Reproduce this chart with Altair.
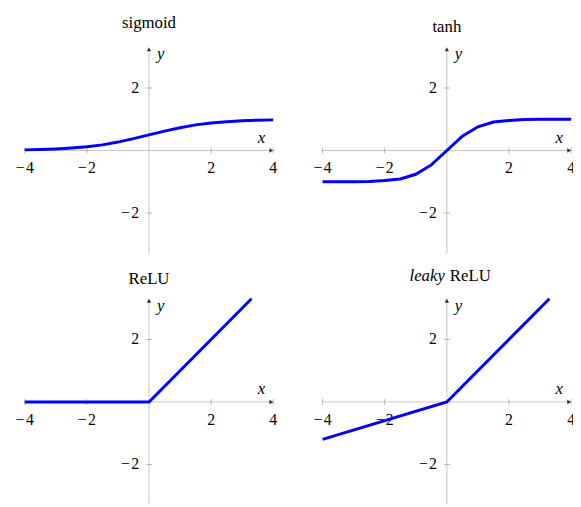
import altair as alt
import pandas as pd

# ---- data ----
x_smooth = [-4, -3.5, -3, -2.5, -2, -1.5, -1, -0.5, 0, 0.5, 1, 1.5, 2, 2.5, 3, 3.5, 4]
y_sigmoid = [0.02, 0.03, 0.05, 0.08, 0.12, 0.18, 0.27, 0.38, 0.5, 0.62, 0.73, 0.82, 0.88, 0.92, 0.95, 0.97, 0.98]
y_tanh = [-1.0, -1.0, -1.0, -0.99, -0.96, -0.91, -0.76, -0.46, 0.0, 0.46, 0.76, 0.91, 0.96, 0.99, 1.0, 1.0, 1.0]
x_relu = [-4, 0, 3.3]
y_relu = [0, 0, 3.3]
x_leaky = [-4, 0, 3.3]
y_leaky = [-1.2, 0, 3.3]

x_ticks = [-4, -2, 2, 4]
x_tick_labels = ["−\u200a4", "−\u200a2", "2", "4"]
y_ticks = [-2, 2]
y_tick_labels = ["−\u200a2", "2"]
x_axis_ends = [-4, 4]
y_axis_ends = [-3.3, 3.3]
titles = ["sigmoid", "tanh", "ReLU", "ReLU"]
title_prefix = ["", "", "", "leaky"]

FONT = "Liberation Serif"
BLUE = "#0000ff"


def panel(xs, ys, title, prefix, xdom, ydom, width, height, title_y):
    xsc = alt.Scale(domain=xdom, nice=False, zero=False)
    ysc = alt.Scale(domain=ydom, nice=False, zero=False)

    def X(**kw):
        return alt.X(scale=xsc, axis=None, **kw)

    def Y(**kw):
        return alt.Y(scale=ysc, axis=None, **kw)

    curve = pd.DataFrame({"x": xs, "y": ys})
    xt = pd.DataFrame({"v": x_ticks, "lab": x_tick_labels})
    yt = pd.DataFrame({"v": y_ticks, "lab": y_tick_labels})

    one = alt.Chart(pd.DataFrame({"k": [0]}))
    layers = []
    # axis lines
    layers.append(one.mark_rule(color="#c4c4c4", strokeWidth=1, clip=True).encode(
        x=X(datum=x_axis_ends[0]), x2=alt.X2(datum=x_axis_ends[1]), y=Y(datum=0)))
    layers.append(one.mark_rule(color="#c4c4c4", strokeWidth=1, clip=True).encode(
        x=X(datum=0), y=Y(datum=y_axis_ends[0]), y2=alt.Y2(datum=y_axis_ends[1])))
    # ticks
    layers.append(alt.Chart(xt).mark_tick(orient="vertical", size=6, thickness=1,
                                          color="#9a9a9a", clip=True).encode(
        x=X(field="v", type="quantitative"), y=Y(datum=0)))
    layers.append(alt.Chart(yt).mark_tick(orient="horizontal", size=6, thickness=1,
                                          color="#9a9a9a", clip=True).encode(
        x=X(datum=0), y=Y(field="v", type="quantitative")))
    # arrow heads
    layers.append(one.mark_point(shape="triangle-right", filled=True, size=20,
                                 color="#303030", opacity=1, xOffset=-2, clip=True).encode(
        x=X(datum=x_axis_ends[1]), y=Y(datum=0)))
    layers.append(one.mark_point(shape="triangle-up", filled=True, size=20,
                                 color="#303030", opacity=1, yOffset=2, clip=True).encode(
        x=X(datum=0), y=Y(datum=y_axis_ends[1])))
    # tick labels
    layers.append(alt.Chart(xt).mark_text(font=FONT, fontSize=16, dy=23, baseline="alphabetic",
                                          color="black", clip=True).encode(
        x=X(field="v", type="quantitative"), y=Y(datum=0), text="lab:N"))
    layers.append(alt.Chart(yt).mark_text(font=FONT, fontSize=16, dx=-10, dy=5, align="right",
                                          baseline="alphabetic", color="black", clip=True).encode(
        x=X(datum=0), y=Y(field="v", type="quantitative"), text="lab:N"))
    # axis labels
    layers.append(one.mark_text(text="x", font=FONT, fontStyle="italic", fontSize=17,
                                dx=-12, dy=-8, baseline="alphabetic", color="black").encode(
        x=X(datum=x_axis_ends[1]), y=Y(datum=0)))
    layers.append(one.mark_text(text="y", font=FONT, fontStyle="italic", fontSize=17,
                                dx=8, dy=12, align="left", baseline="alphabetic", color="black").encode(
        x=X(datum=0), y=Y(datum=y_axis_ends[1])))
    # curve
    layers.append(alt.Chart(curve).mark_line(color=BLUE, strokeWidth=3, clip=True).encode(
        x=X(field="x", type="quantitative"), y=Y(field="y", type="quantitative")))
    # title
    if prefix:
        layers.append(one.mark_text(text=prefix, font=FONT, fontStyle="italic", fontSize=17,
                                    align="right", dx=-2, baseline="alphabetic", color="black").encode(
            x=X(datum=0), y=alt.value(title_y)))
        layers.append(one.mark_text(text=title, font=FONT, fontSize=17,
                                    align="left", dx=3, baseline="alphabetic", color="black").encode(
            x=X(datum=0), y=alt.value(title_y)))
    else:
        layers.append(one.mark_text(text=title, font=FONT, fontSize=17,
                                    baseline="alphabetic", color="black").encode(
            x=X(datum=0), y=alt.value(title_y)))
    return alt.layer(*layers).properties(width=width, height=height)


PX = 31.5
xdom_left = [-4.54, 4.54]
xdom_right = [-4.54, 4.06]
w_left = round((xdom_left[1] - xdom_left[0]) * PX)
w_right = round((xdom_right[1] - xdom_right[0]) * PX)
ydom_top = [-3.596, 4.448]
ydom_bot = [-3.25, 4.448]
h_top = 255
h_bot = 244

p1 = panel(x_smooth, y_sigmoid, titles[0], title_prefix[0], xdom_left, ydom_top, w_left, h_top, 17)
p2 = panel(x_smooth, y_tanh, titles[1], title_prefix[1], xdom_right, ydom_top, w_right, h_top, 21)
p3 = panel(x_relu, y_relu, titles[2], title_prefix[2], xdom_left, ydom_bot, w_left, h_bot, 21)
p4 = panel(x_leaky, y_leaky, titles[3], title_prefix[3], xdom_right, ydom_bot, w_right, h_bot, 18)

row1 = alt.hconcat(p1, p2, spacing=16)
row2 = alt.hconcat(p3, p4, spacing=16)
chart = alt.vconcat(row1, row2, spacing=0).properties(padding=0).configure_view(stroke=None)

chart.save("out.html", embed_options={"renderer": "svg", "actions": False})
